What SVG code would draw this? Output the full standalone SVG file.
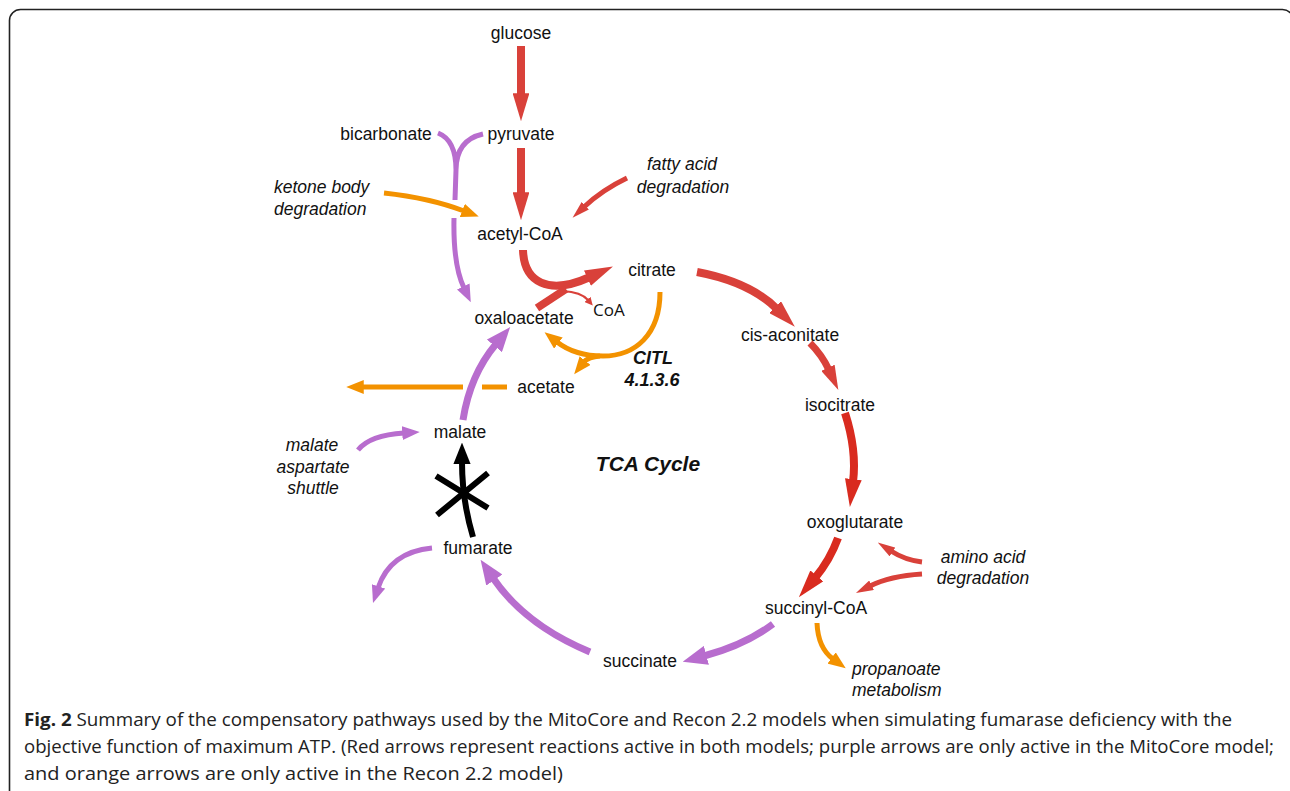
<svg xmlns="http://www.w3.org/2000/svg" width="1290" height="791" viewBox="0 0 1290 791">
<style>
.lbl{font-family:"Liberation Sans",Arial,sans-serif;font-size:17.5px;fill:#111;text-anchor:middle}
.it{font-style:italic}
.bi{font-style:italic;font-weight:bold}
.cap{font-family:"Open Sans","DejaVu Sans",sans-serif;font-size:18px;fill:#222}
.r{fill:none;stroke:#d9413a}
.dr{fill:none;stroke:#d92b1f}
.p{fill:none;stroke:#b86dce}
.o{fill:none;stroke:#f39200}
.k{fill:none;stroke:#000}
</style>
<defs>
<marker id="mr" viewBox="0 0 10 6" refX="1" refY="3" markerWidth="3.5" markerHeight="2.1" orient="auto" markerUnits="strokeWidth"><path d="M0,0L10,3L0,6z" fill="#d9413a"/></marker>
<marker id="mdr" viewBox="0 0 10 6" refX="1" refY="3" markerWidth="3.5" markerHeight="2.1" orient="auto" markerUnits="strokeWidth"><path d="M0,0L10,3L0,6z" fill="#d92b1f"/></marker>
<marker id="mrt" viewBox="0 0 10 10" refX="1" refY="5" markerWidth="4" markerHeight="4" orient="auto" markerUnits="strokeWidth"><path d="M0,0L10,5L0,10z" fill="#d9413a"/></marker>
<marker id="mp" viewBox="0 0 10 8" refX="1" refY="4" markerWidth="3.5" markerHeight="2.8" orient="auto" markerUnits="strokeWidth"><path d="M0,0L10,4L0,8z" fill="#b86dce"/></marker>
<marker id="mo" viewBox="0 0 10 8" refX="1" refY="4" markerWidth="3.5" markerHeight="2.8" orient="auto" markerUnits="strokeWidth"><path d="M0,0L10,4L0,8z" fill="#f39200"/></marker>
<marker id="mk" viewBox="0 0 10 8" refX="1" refY="4" markerWidth="3.6" markerHeight="3" orient="auto" markerUnits="strokeWidth"><path d="M0,0L10,4L0,8z" fill="#000"/></marker>
</defs>
<rect x="9.5" y="9.5" width="1284" height="800" rx="11" fill="#fff" stroke="#222" stroke-width="1.6"/>

<g id="connectors">
<path class="r" stroke-width="8" d="M521,46L521,96" marker-end="url(#mr)"/>
<path class="r" stroke-width="8" d="M521,148L521,195" marker-end="url(#mr)"/>
<path class="r" stroke-width="5" d="M627,178Q602,190 584,207" marker-end="url(#mr)"/>
<path class="o" stroke-width="5" d="M384,193Q430,198 464,211" marker-end="url(#mo)"/>
<path class="p" stroke-width="5" d="M438,133Q456,140 456,170L455,200M483,134Q456,140 456,170"/>
<path class="p" stroke-width="5" d="M454,218Q453,265 464,288" marker-end="url(#mp)"/>
<path class="r" stroke-width="8" d="M523,250C524,282 548,296 590,277" marker-end="url(#mr)"/>
<path class="r" stroke-width="8" d="M537,308L566,289"/>
<path class="r" stroke-width="2" d="M563,291Q581,292 588,300" marker-end="url(#mrt)"/>
<path class="r" stroke-width="8" d="M697,272Q750,282 777,309" marker-end="url(#mr)"/>
<path class="r" stroke-width="7" d="M810,343Q822,355 829,370" marker-end="url(#mr)"/>
<path class="dr" stroke-width="8" d="M845,413Q857,450 853,482" marker-end="url(#mdr)"/>
<path class="dr" stroke-width="8" d="M838,538Q830,560 815,578" marker-end="url(#mdr)"/>
<path class="r" stroke-width="5" d="M922,562Q905,560 891,551" marker-end="url(#mr)"/>
<path class="r" stroke-width="5" d="M922,574Q890,576 870,586" marker-end="url(#mr)"/>
<path class="p" stroke-width="7" d="M773,624Q745,645 704,656" marker-end="url(#mp)"/>
<path class="o" stroke-width="5" d="M817,623Q818,648 833,659" marker-end="url(#mo)"/>
<path class="p" stroke-width="7" d="M590,652Q525,625 493,578" marker-end="url(#mp)"/>
<path class="p" stroke-width="5" d="M432,548Q390,552 378,588" marker-end="url(#mp)"/>
<path class="p" stroke-width="7" d="M463,420Q470,375 496,344" marker-end="url(#mp)"/>
<path class="p" stroke-width="5" d="M358,450Q370,435 404,433" marker-end="url(#mp)"/>
<path class="o" stroke-width="5" d="M482,387L507,387"/>
<path class="o" stroke-width="5" d="M463,387L362,387" marker-end="url(#mo)"/>
<path class="o" stroke-width="5" d="M660,292C660,335 635,356 603,356C580,356 566,349 557,342" marker-end="url(#mo)"/>
<path class="o" stroke-width="5" d="M600,356Q588,357 584,362" marker-end="url(#mo)"/>
<path class="k" stroke-width="6" d="M473,537Q462,500 462,462" marker-end="url(#mk)"/>
<path class="k" stroke-width="6" d="M436,476L488,508M437,515L488,473"/>
</g>

<g id="glucose"><text class="lbl" x="521" y="39">glucose</text></g>
<g id="pyruvate"><text class="lbl" x="521" y="140">pyruvate</text></g>
<g id="bicarbonate"><text class="lbl" x="386" y="140">bicarbonate</text></g>
<g id="fatty-acid"><text class="lbl it" x="682" y="170">fatty acid</text><text class="lbl it" x="683" y="193">degradation</text></g>
<g id="ketone"><text class="lbl it" x="274" y="193" style="text-anchor:start">ketone body</text><text class="lbl it" x="274" y="215" style="text-anchor:start">degradation</text></g>
<g id="acetyl-coa"><text class="lbl" x="520" y="240">acetyl-CoA</text></g>
<g id="citrate"><text class="lbl" x="652" y="276">citrate</text></g>
<g id="coa"><text x="593" y="316" style="font-family:'Open Sans','DejaVu Sans',sans-serif;font-size:17px;fill:#111">CoA</text></g>
<g id="oxaloacetate"><text class="lbl" x="524" y="324">oxaloacetate</text></g>
<g id="citl"><text class="lbl bi" x="653" y="364" style="font-size:18px">CITL</text><text class="lbl bi" x="652" y="386" style="font-size:18px">4.1.3.6</text></g>
<g id="acetate"><text class="lbl" x="546" y="393">acetate</text></g>
<g id="cis-aconitate"><text class="lbl" x="790" y="341">cis-aconitate</text></g>
<g id="isocitrate"><text class="lbl" x="840" y="411">isocitrate</text></g>
<g id="malate"><text class="lbl" x="460" y="438">malate</text></g>
<g id="tca"><text class="lbl bi" x="648" y="471" style="font-size:21px">TCA Cycle</text></g>
<g id="shuttle"><text class="lbl it" x="312" y="451">malate</text><text class="lbl it" x="313" y="473">aspartate</text><text class="lbl it" x="313" y="494">shuttle</text></g>
<g id="oxoglutarate"><text class="lbl" x="855" y="528">oxoglutarate</text></g>
<g id="amino-acid"><text class="lbl it" x="983" y="563">amino acid</text><text class="lbl it" x="983" y="584">degradation</text></g>
<g id="fumarate"><text class="lbl" x="478" y="554">fumarate</text></g>
<g id="succinyl-coa"><text class="lbl" x="816" y="614">succinyl-CoA</text></g>
<g id="succinate"><text class="lbl" x="640" y="667">succinate</text></g>
<g id="propanoate"><text class="lbl it" x="852" y="675" style="text-anchor:start">propanoate</text><text class="lbl it" x="852" y="696" style="text-anchor:start">metabolism</text></g>

<g id="caption">
<text class="cap" x="24" y="726" textLength="1208" lengthAdjust="spacingAndGlyphs"><tspan font-weight="bold">Fig. 2</tspan> Summary of the compensatory pathways used by the MitoCore and Recon 2.2 models when simulating fumarase deficiency with the</text>
<text class="cap" x="24" y="753" textLength="1250" lengthAdjust="spacingAndGlyphs">objective function of maximum ATP. (Red arrows represent reactions active in both models; purple arrows are only active in the MitoCore model;</text>
<text class="cap" x="24" y="780" textLength="539" lengthAdjust="spacingAndGlyphs">and orange arrows are only active in the Recon 2.2 model)</text>
</g>
</svg>
